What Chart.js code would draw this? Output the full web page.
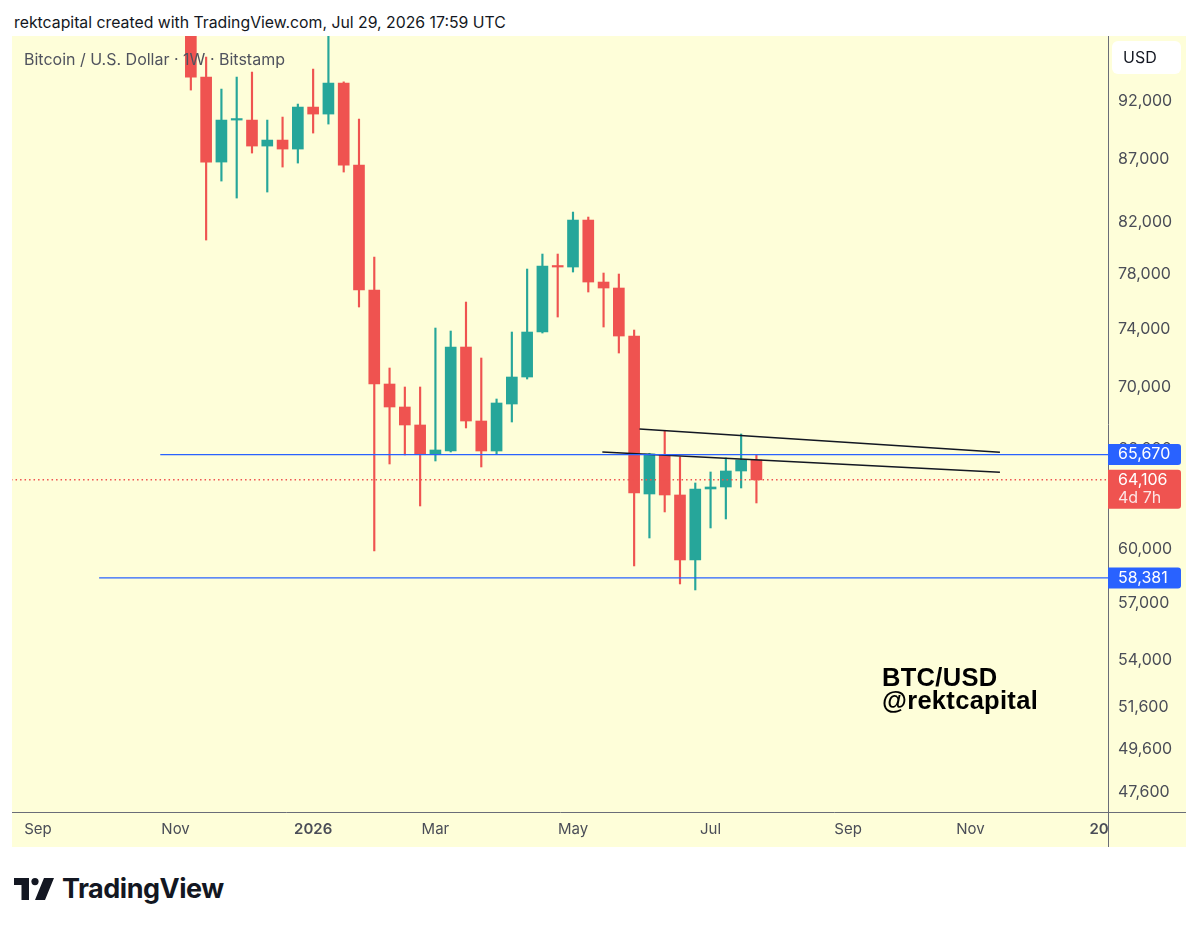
<!DOCTYPE html>
<html>
<head>
<meta charset="utf-8">
<title>BTC/USD 1W</title>
<script src="https://cdn.jsdelivr.net/npm/chart.js@4.4.1/dist/chart.umd.min.js"></script>
<style>
  html, body { margin: 0; padding: 0; background: #ffffff; }
  body { width: 1199px; height: 927px; position: relative; overflow: hidden; font-family: Inter, "Noto Sans", sans-serif; color: #131722; }
  #header { position: absolute; left: 14px; top: 15px; font-size: 15.8px; line-height: 1; white-space: nowrap; }
  #chartBox { position: absolute; left: 12px; top: 36px; width: 1174px; height: 811px; background: #fefed9; }
  #legend { position: absolute; left: 24px; top: 51px; font-size: 16px; line-height: 1; color: #50535e; white-space: nowrap; z-index: 2; }
  #watermark { position: absolute; left: 882px; top: 666px; font-family: "Liberation Sans", Arial, sans-serif; font-weight: bold; font-size: 25.5px; letter-spacing: 0.3px; line-height: 23px; color: #000000; z-index: 2; }
  #logo { position: absolute; left: 14px; top: 875px; display: flex; align-items: center; gap: 8px; }
  #logo span { font-size: 27px; font-weight: 700; letter-spacing: -0.5px; line-height: 1; color: #131722; }
</style>
</head>
<body>
<div id="header">rektcapital created with TradingView.com, Jul 29, 2026 17:59 UTC</div>
<div id="chartBox"><canvas id="btcChart"></canvas></div>
<div id="legend">Bitcoin / U.S. Dollar · 1W · Bitstamp</div>
<div id="watermark"><div>BTC/USD</div><div>@rektcapital</div></div>
<div id="logo">
  <svg width="40" height="22" viewBox="0 0 40 22"><path d="M0 0H15V22H7.5V7H0Z M30 0H40L31 22H21Z" fill="#131722"/><circle cx="21" cy="3.6" r="3.6" fill="#131722"/></svg>
  <span>TradingView</span>
</div>
<script>
const axisStartWeek = "2025-09-01";

const weekStarts = [
  "2025-11-10", "2025-11-17", "2025-11-24", "2025-12-01", "2025-12-08", "2025-12-15", "2025-12-22", "2025-12-29",
  "2026-01-05", "2026-01-12", "2026-01-19", "2026-01-26", "2026-02-02", "2026-02-09", "2026-02-16", "2026-02-23",
  "2026-03-02", "2026-03-09", "2026-03-16", "2026-03-23", "2026-03-30", "2026-04-06", "2026-04-13", "2026-04-20",
  "2026-04-27", "2026-05-04", "2026-05-11", "2026-05-18", "2026-05-25", "2026-06-01", "2026-06-08", "2026-06-15",
  "2026-06-22", "2026-06-29", "2026-07-06", "2026-07-13", "2026-07-20", "2026-07-27"
];
const opens = [
  104700, 94130, 86801, 90348, 90348, 88136, 88641, 87884,
  91475, 90867, 93592, 86553, 76828, 70241, 68718, 67549,
  65706, 65894, 72763, 67806, 65894, 68914, 70711, 73811,
  78607, 78532, 82130, 77416, 76975, 73530, 63247, 65644,
  63187, 59390, 63550, 63670, 64649, 65331
];
const highs = [
  107400, 95942, 93059, 94130, 94580, 90348, 90607, 91737,
  94850, 98000, 93700, 90434, 79284, 71321, 70041, 70041,
  74093, 73882, 75953, 72004, 69244, 73811, 78382, 79511,
  79511, 82758, 82366, 78084, 78009, 73952, 65750, 67163,
  65519, 63914, 64588, 65456, 66971, 65644
];
const lows = [
  92970, 80580, 85242, 83872, 87549, 84354, 86388, 86718,
  89235, 90004, 85978, 75593, 59902, 65083, 65644, 62528,
  65269, 65831, 67356, 64897, 65706, 67742, 70577, 73741,
  74875, 78158, 76682, 74165, 72348, 59052, 60648, 62172,
  58046, 57715, 61230, 61758, 63610, 62707
];
const closes = [
  94130, 86801, 90348, 90434, 88136, 88641, 87884, 91475,
  90867, 93592, 86553, 76828, 70241, 68718, 67549, 65706,
  65957, 72763, 67806, 65894, 68980, 70711, 73811, 78607,
  78532, 82130, 77416, 76975, 73530, 63308, 65706, 63187,
  59390, 63550, 63670, 64649, 65331, 64106
];

const xTickWeeks = ["2025-09-01", "2025-11-03", "2026-01-05", "2026-03-02", "2026-05-04", "2026-07-06", "2026-09-07", "2026-11-02", "2027-01-04"];
const xTickLabels = ["Sep", "Nov", "2026", "Mar", "May", "Jul", "Sep", "Nov", "2027"];
const yTickValues = [92000, 87000, 82000, 78000, 74000, 70000, 66000, 60000, 57000, 54000, 51600, 49600, 47600];

const levelPrices = [65670, 58381];
const levelStartWeeks = ["2025-10-27", "2025-09-29"];
const lastPrice = 64106;
const countdownText = "4d 7h";

const upperTrendWeeks = [39.35, 62.93];
const upperTrendPrices = [67291, 65812];
const lowerTrendWeeks = [36.92, 62.93];
const lowerTrendPrices = [65831, 64570];

const COLORS = {
  up: "#26a69a",
  down: "#ef5350",
  level: "#2962ff",
  trend: "#131722",
  axis: "#6a6d78",
  text: "#4a4d57",
  background: "#fefed9"
};

function weekIndex(dateText) {
  return Math.round((Date.parse(dateText) - Date.parse(axisStartWeek)) / (7 * 864e5));
}

function formatPrice(value) {
  return Number(value).toLocaleString("en-US");
}

function dropScalePadding(scale) {
  scale.paddingTop = 0;
  scale.paddingBottom = 0;
  scale.paddingLeft = 0;
  scale.paddingRight = 0;
}

function drawPriceTag(ctx, left, y, lines, color) {
  const height = lines.length > 1 ? 39 : 21;
  const top = lines.length > 1 ? y - 10 : y - height / 2;
  ctx.fillStyle = color;
  ctx.beginPath();
  ctx.roundRect(left, top, 73, height, [0, 3, 3, 0]);
  ctx.fill();
  ctx.font = "16px Inter, sans-serif";
  ctx.textBaseline = "middle";
  ctx.textAlign = "left";
  lines.forEach((line, i) => {
    ctx.fillStyle = i === 0 ? "#ffffff" : "rgba(255, 255, 255, 0.85)";
    ctx.fillText(line, left + 10, top + 10.5 + i * 18);
  });
}

const priceAxisPlugin = {
  id: "priceAxisExtras",
  afterDraw(chart) {
    const { ctx, chartArea, scales } = chart;
    const right = chartArea.right;
    const bottom = chartArea.bottom;

    ctx.save();
    ctx.fillStyle = COLORS.background;
    ctx.fillRect(right + 1, bottom + 1, chart.width - right, chart.height - bottom);
    ctx.strokeStyle = COLORS.axis;
    ctx.lineWidth = 1;
    ctx.beginPath();
    ctx.moveTo(right + 0.5, bottom);
    ctx.lineTo(right + 0.5, chart.height);
    ctx.moveTo(right, bottom + 0.5);
    ctx.lineTo(chart.width, bottom + 0.5);
    ctx.stroke();

    levelPrices.forEach(price => {
      drawPriceTag(ctx, right, scales.y.getPixelForValue(price), [formatPrice(price)], COLORS.level);
    });
    drawPriceTag(ctx, right, scales.y.getPixelForValue(lastPrice), [formatPrice(lastPrice), countdownText], COLORS.down);

    ctx.fillStyle = "#ffffff";
    ctx.beginPath();
    ctx.roundRect(right + 4, 5, 69, 33, 6);
    ctx.fill();
    ctx.fillStyle = "#131722";
    ctx.font = "16px Inter, sans-serif";
    ctx.textBaseline = "middle";
    ctx.fillText("USD", right + 15, 22);
    ctx.restore();
  }
};

function lineDataset(weeks, prices, color, width, dash) {
  return {
    type: "line",
    data: weeks.map((w, i) => ({ x: w, y: prices[i] })),
    borderColor: color,
    borderWidth: width,
    borderDash: dash || [],
    pointRadius: 0,
    tension: 0,
    order: 1
  };
}

function initBtcChart() {
  const candleX = weekStarts.map(weekIndex);
  const candleColors = closes.map((close, i) => (close >= opens[i] ? COLORS.up : COLORS.down));

  const datasets = [
    {
      type: "bar",
      data: candleX.map((x, i) => ({ x, y: [lows[i], highs[i]] })),
      backgroundColor: candleColors,
      barThickness: 1.5,
      grouped: false,
      order: 3
    },
    {
      type: "bar",
      data: candleX.map((x, i) => ({ x, y: [opens[i], closes[i]] })),
      backgroundColor: candleColors,
      barThickness: 11,
      minBarLength: 1.5,
      grouped: false,
      order: 2
    }
  ];

  levelPrices.forEach((price, i) => {
    datasets.push(lineDataset([weekIndex(levelStartWeeks[i]), 80], [price, price], COLORS.level, 1.2));
  });
  datasets.push(lineDataset([-5, 80], [lastPrice, lastPrice], COLORS.down, 1.5, [1.5, 3]));
  datasets.push(lineDataset(upperTrendWeeks, upperTrendPrices, COLORS.trend, 1.6));
  datasets.push(lineDataset(lowerTrendWeeks, lowerTrendPrices, COLORS.trend, 1.6));

  new Chart(document.getElementById("btcChart"), {
    data: { datasets },
    plugins: [priceAxisPlugin],
    options: {
      responsive: true,
      maintainAspectRatio: false,
      animation: false,
      layout: { padding: 0 },
      plugins: {
        legend: { display: false },
        tooltip: { enabled: false }
      },
      scales: {
        x: {
          type: "linear",
          offset: false,
          min: -1.7,
          max: 70,
          afterFit: scale => { scale.height = 35; dropScalePadding(scale); },
          afterBuildTicks: scale => { scale.ticks = xTickWeeks.map(w => ({ value: weekIndex(w) })); },
          grid: { display: false, drawTicks: false, offset: false },
          border: { display: true, color: COLORS.axis, width: 1 },
          ticks: {
            padding: 8,
            autoSkip: false,
            maxRotation: 0,
            color: COLORS.text,
            font: ctx => ({
              family: "Inter",
              size: 15,
              weight: /^\d{4}$/.test(ctx.tick ? ctx.tick.label : "") ? "600" : "400"
            }),
            callback: (value, i) => xTickLabels[i]
          }
        },
        y: {
          type: "logarithmic",
          position: "right",
          min: 46700,
          max: 97890,
          afterFit: scale => { scale.width = 78; dropScalePadding(scale); },
          afterBuildTicks: scale => { scale.ticks = yTickValues.map(v => ({ value: v })); },
          grid: { display: false, drawTicks: false },
          border: { display: true, color: COLORS.axis, width: 1 },
          ticks: {
            padding: 10,
            color: COLORS.text,
            font: { family: "Inter", size: 16 },
            callback: value => formatPrice(value)
          }
        }
      }
    }
  });
}

initBtcChart();
</script>
</body>
</html>
